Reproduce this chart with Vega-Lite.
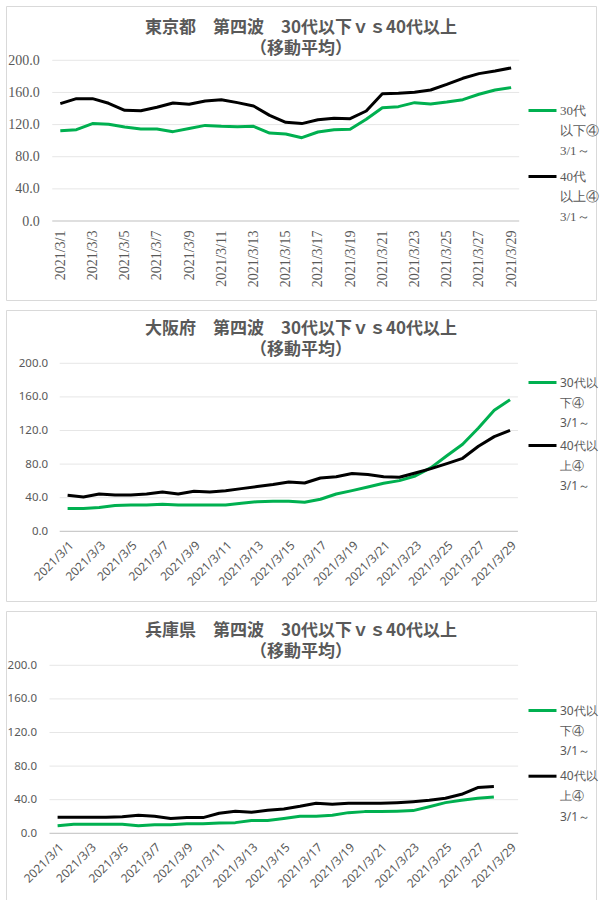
{
  "$schema": "https://vega.github.io/schema/vega-lite/v6.json",
  "background": "white",
  "padding": {"left": 5, "top": 5, "right": 0, "bottom": 0},
  "spacing": 8,
  "resolve": {"scale": {"color": "independent", "x": "independent", "y": "independent"}, "legend": {"color": "independent"}},
  "config": {
    "view": {"stroke": "#d9d9d9", "strokeWidth": 1},
    "line": {"strokeWidth": 3, "strokeJoin": "round"},
    "style": {"guide-label": {"lineHeight": 20.3}}
  },
  "datasets": {
    "grid": [{"grid": 0}, {"grid": 40}, {"grid": 80}, {"grid": 120}, {"grid": 160}, {"grid": 200}],
    "tokyo": [
      {"day":1,"u30":112.4,"o40":146.0},{"day":2,"u30":113.7,"o40":152.3},{"day":3,"u30":121.2,"o40":152.3},
      {"day":4,"u30":120.3,"o40":146.5},{"day":5,"u30":117.0,"o40":137.8},{"day":6,"u30":114.5,"o40":137.3},
      {"day":7,"u30":114.5,"o40":141.5},{"day":8,"u30":111.2,"o40":146.9},{"day":9,"u30":115.0,"o40":145.2},
      {"day":10,"u30":119.0,"o40":149.4},{"day":11,"u30":117.8,"o40":151.0},{"day":12,"u30":117.4,"o40":147.3},
      {"day":13,"u30":117.8,"o40":143.2},{"day":14,"u30":109.5,"o40":131.5},{"day":15,"u30":108.3,"o40":122.8},
      {"day":16,"u30":103.7,"o40":121.2},{"day":17,"u30":110.8,"o40":126.1},{"day":18,"u30":113.7,"o40":127.8},
      {"day":19,"u30":114.1,"o40":127.4},{"day":20,"u30":126.6,"o40":136.9},{"day":21,"u30":141.0,"o40":158.5},
      {"day":22,"u30":142.3,"o40":159.0},{"day":23,"u30":147.3,"o40":160.2},{"day":24,"u30":145.6,"o40":163.0},
      {"day":25,"u30":148.0,"o40":170.0},{"day":26,"u30":151.0,"o40":177.6},{"day":27,"u30":157.7,"o40":183.4},
      {"day":28,"u30":163.0,"o40":186.7},{"day":29,"u30":166.0,"o40":190.5}
    ],
    "osaka": [
      {"day":1,"u30":27.0,"o40":42.9},{"day":2,"u30":27.0,"o40":40.9},{"day":3,"u30":28.2,"o40":44.4},
      {"day":4,"u30":30.6,"o40":43.3},{"day":5,"u30":31.3,"o40":43.3},{"day":6,"u30":31.3,"o40":44.4},
      {"day":7,"u30":32.1,"o40":46.8},{"day":8,"u30":31.3,"o40":44.4},{"day":9,"u30":31.3,"o40":47.6},
      {"day":10,"u30":31.3,"o40":46.8},{"day":11,"u30":31.3,"o40":48.4},{"day":12,"u30":33.3,"o40":50.8},
      {"day":13,"u30":35.3,"o40":53.2},{"day":14,"u30":35.7,"o40":55.6},{"day":15,"u30":35.7,"o40":58.7},
      {"day":16,"u30":34.5,"o40":57.5},{"day":17,"u30":38.1,"o40":63.5},{"day":18,"u30":44.4,"o40":65.0},
      {"day":19,"u30":48.4,"o40":68.7},{"day":20,"u30":52.8,"o40":67.5},{"day":21,"u30":57.1,"o40":65.0},
      {"day":22,"u30":60.3,"o40":64.3},{"day":23,"u30":65.9,"o40":69.4},{"day":24,"u30":75.8,"o40":74.6},
      {"day":25,"u30":90.0,"o40":80.6},{"day":26,"u30":103.6,"o40":86.9},{"day":27,"u30":123.0,"o40":101.2},
      {"day":28,"u30":144.0,"o40":112.7},{"day":29,"u30":156.7,"o40":120.2}
    ],
    "hyogo": [
      {"day":1,"u30":9.1,"o40":19.0},{"day":2,"u30":10.7,"o40":19.0},{"day":3,"u30":10.7,"o40":19.0},
      {"day":4,"u30":10.7,"o40":19.0},{"day":5,"u30":10.7,"o40":19.8},{"day":6,"u30":9.1,"o40":21.4},
      {"day":7,"u30":10.3,"o40":20.2},{"day":8,"u30":10.3,"o40":17.5},{"day":9,"u30":11.5,"o40":18.7},
      {"day":10,"u30":11.5,"o40":18.7},{"day":11,"u30":12.3,"o40":23.8},{"day":12,"u30":12.7,"o40":26.2},
      {"day":13,"u30":15.1,"o40":25.0},{"day":14,"u30":15.1,"o40":27.4},{"day":15,"u30":17.5,"o40":29.0},
      {"day":16,"u30":20.2,"o40":32.1},{"day":17,"u30":20.2,"o40":35.7},{"day":18,"u30":21.4,"o40":34.5},
      {"day":19,"u30":24.6,"o40":35.7},{"day":20,"u30":25.8,"o40":35.7},{"day":21,"u30":25.8,"o40":35.7},
      {"day":22,"u30":26.2,"o40":36.5},{"day":23,"u30":27.0,"o40":37.7},{"day":24,"u30":31.7,"o40":39.3},
      {"day":25,"u30":36.5,"o40":41.7},{"day":26,"u30":39.3,"o40":46.4},{"day":27,"u30":41.7,"o40":54.4},
      {"day":28,"u30":43.3,"o40":55.6}
    ]
  },
  "vconcat": [
    {
      "width": 590, "height": 294,
      "title": {"text": ["東京都　第四波　30代以下ｖｓ40代以上", "（移動平均）"], "font": "Noto Sans CJK JP", "fontSize": 17, "fontWeight": "bold", "color": "#595959", "lineHeight": 21.5, "offset": -52, "anchor": "middle", "frame": "group", "baseline": "top"},
      "layer": [
        {
          "data": {"name": "grid"},
          "mark": {"type": "rule", "strokeWidth": 1},
          "encoding": {
            "y": {"field": "grid", "type": "quantitative", "title": null},
            "x": {"datum": 0.5, "type": "quantitative", "title": null},
            "x2": {"datum": 29.5},
            "color": {"condition": {"test": "datum.grid === 0", "value": "#bfbfbf"}, "value": "#e6e6e6"}
          }
        },
        {
          "data": {"name": "tokyo"},
          "transform": [{"fold": ["u30", "o40"], "as": ["series", "value"]}],
          "mark": {"type": "line"},
          "encoding": {
            "x": {"field": "day", "type": "quantitative",
              "scale": {"domain": [-2.373, 34.27], "nice": false, "zero": false},
              "axis": {"title": null, "values": [1,3,5,7,9,11,13,15,17,19,21,23,25,27,29], "labelExpr": "'2021/3/' + datum.value",
                "grid": false, "domain": false, "ticks": false, "labelAngle": -90, "labelPadding": 9, "offset": -79,
                "labelFont": "Liberation Serif", "labelFontSize": 14, "labelColor": "#595959",
                "labelFlush": false, "labelOverlap": false, "labelBound": false}},
            "y": {"field": "value", "type": "quantitative",
              "scale": {"domain": [-98.32, 267.58], "nice": false, "zero": false},
              "axis": {"title": null, "values": [0,40,80,120,160,200], "format": ".1f",
                "grid": false, "domain": false, "ticks": false, "offset": -46.2, "labelPadding": 13,
                "labelFont": "Liberation Serif", "labelFontSize": 14, "labelColor": "#595959",
                "labelFlush": false, "labelOverlap": false}},
            "color": {"field": "series", "type": "nominal",
              "scale": {"domain": ["u30", "o40"], "range": ["#00b050", "#000000"]},
              "legend": {"orient": "none", "legendX": 521, "legendY": 89, "title": null, "padding": 0,
                "symbolType": "stroke", "symbolSize": 784, "symbolStrokeWidth": 3, "rowPadding": 2, "labelOffset": 2,
                "labelFont": "Liberation Serif", "labelFontSize": 13, "labelColor": "#595959", "labelBaseline": "middle",
                "labelExpr": "datum.label === 'u30' ? ['30代', '以下④', '3/1～'] : ['40代', '以上④', '3/1～']"}}
          }
        }
      ]
    },
    {
      "width": 590, "height": 291,
      "title": {"text": ["大阪府　第四波　30代以下ｖｓ40代以上", "（移動平均）"], "font": "Noto Sans CJK JP", "fontSize": 17, "fontWeight": "bold", "color": "#595959", "lineHeight": 21.5, "offset": -49.4, "anchor": "middle", "frame": "group", "baseline": "top"},
      "layer": [
        {
          "data": {"name": "grid"},
          "mark": {"type": "rule", "strokeWidth": 1},
          "encoding": {
            "y": {"field": "grid", "type": "quantitative", "title": null},
            "x": {"datum": 0.5, "type": "quantitative", "title": null},
            "x2": {"datum": 29.5},
            "color": {"condition": {"test": "datum.grid === 0", "value": "#bfbfbf"}, "value": "#e6e6e6"}
          }
        },
        {
          "data": {"name": "osaka"},
          "transform": [{"fold": ["u30", "o40"], "as": ["series", "value"]}],
          "mark": {"type": "line"},
          "encoding": {
            "x": {"field": "day", "type": "quantitative",
              "scale": {"domain": [-2.899, 34.44], "nice": false, "zero": false},
              "axis": {"title": null, "values": [1,3,5,7,9,11,13,15,17,19,21,23,25,27,29], "labelExpr": "'2021/3/' + datum.value",
                "grid": false, "domain": false, "ticks": false, "labelAngle": -45, "labelPadding": 8, "offset": -69.7,
                "labelFont": "Noto Sans", "labelFontSize": 12, "labelColor": "#595959",
                "labelFlush": false, "labelOverlap": false, "labelBound": false}},
            "y": {"field": "value", "type": "quantitative",
              "scale": {"domain": [-82.98, 263.45], "nice": false, "zero": false},
              "axis": {"title": null, "values": [0,40,80,120,160,200], "format": ".1f",
                "grid": false, "domain": false, "ticks": false, "offset": -53.7, "labelPadding": 12,
                "labelFont": "Noto Sans", "labelFontSize": 11.5, "labelColor": "#595959",
                "labelFlush": false, "labelOverlap": false}},
            "color": {"field": "series", "type": "nominal",
              "scale": {"domain": ["u30", "o40"], "range": ["#00b050", "#000000"]},
              "legend": {"orient": "none", "legendX": 521, "legendY": 57, "title": null, "padding": 0,
                "symbolType": "stroke", "symbolSize": 784, "symbolStrokeWidth": 3, "rowPadding": 0, "labelOffset": 2,
                "labelFont": "Noto Sans", "labelFontSize": 12, "labelColor": "#595959", "labelBaseline": "middle",
                "labelExpr": "datum.label === 'u30' ? ['30代以', '下④', '3/1～'] : ['40代以', '上④', '3/1～']"}}
          }
        }
      ]
    },
    {
      "width": 590, "height": 290,
      "title": {"text": ["兵庫県　第四波　30代以下ｖｓ40代以上", "（移動平均）"], "font": "Noto Sans CJK JP", "fontSize": 17, "fontWeight": "bold", "color": "#595959", "lineHeight": 21.5, "offset": -50.4, "anchor": "middle", "frame": "group", "baseline": "top"},
      "layer": [
        {
          "data": {"name": "grid"},
          "mark": {"type": "rule", "strokeWidth": 1},
          "encoding": {
            "y": {"field": "grid", "type": "quantitative", "title": null},
            "x": {"datum": 0.5, "type": "quantitative", "title": null},
            "x2": {"datum": 29.5},
            "color": {"condition": {"test": "datum.grid === 0", "value": "#bfbfbf"}, "value": "#e6e6e6"}
          }
        },
        {
          "data": {"name": "hyogo"},
          "transform": [{"fold": ["u30", "o40"], "as": ["series", "value"]}],
          "mark": {"type": "line"},
          "encoding": {
            "x": {"field": "day", "type": "quantitative",
              "scale": {"domain": [-2.193, 34.32], "nice": false, "zero": false},
              "axis": {"title": null, "values": [1,3,5,7,9,11,13,15,17,19,21,23,25,27,29], "labelExpr": "'2021/3/' + datum.value",
                "grid": false, "domain": false, "ticks": false, "labelAngle": -45, "labelPadding": 8, "offset": -67.7,
                "labelFont": "Noto Sans", "labelFontSize": 12, "labelColor": "#595959",
                "labelFlush": false, "labelOverlap": false, "labelBound": false}},
            "y": {"field": "value", "type": "quantitative",
              "scale": {"domain": [-80.6, 264.64], "nice": false, "zero": false},
              "axis": {"title": null, "values": [0,40,80,120,160,200], "format": ".1f",
                "grid": false, "domain": false, "ticks": false, "offset": -43.5, "labelPadding": 13,
                "labelFont": "Noto Sans", "labelFontSize": 11.5, "labelColor": "#595959",
                "labelFlush": false, "labelOverlap": false}},
            "color": {"field": "series", "type": "nominal",
              "scale": {"domain": ["u30", "o40"], "range": ["#00b050", "#000000"]},
              "legend": {"orient": "none", "legendX": 521, "legendY": 84, "title": null, "padding": 0,
                "symbolType": "stroke", "symbolSize": 784, "symbolStrokeWidth": 3, "rowPadding": 2.7, "labelOffset": 2,
                "labelFont": "Noto Sans", "labelFontSize": 12, "labelColor": "#595959", "labelBaseline": "middle",
                "labelExpr": "datum.label === 'u30' ? ['30代以', '下④', '3/1～'] : ['40代以', '上④', '3/1～']"}}
          }
        }
      ]
    }
  ]
}
